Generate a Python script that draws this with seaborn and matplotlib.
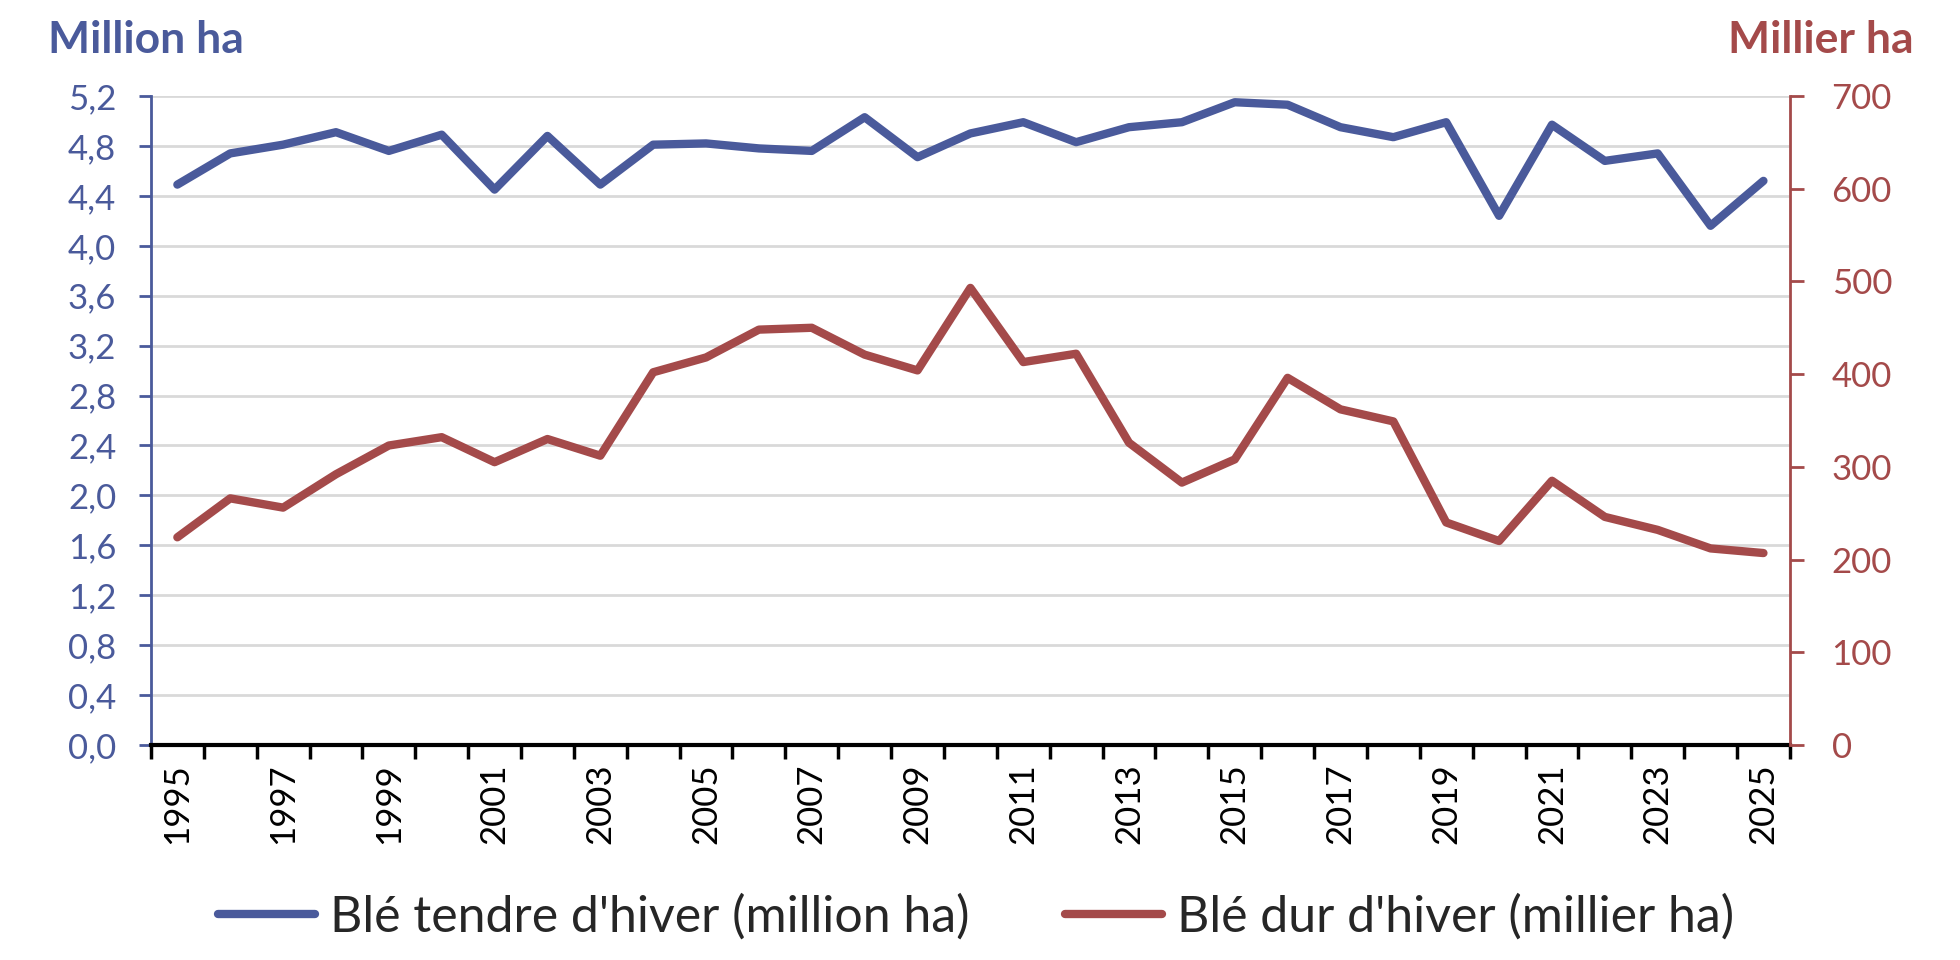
import numpy as np
import pandas as pd
import matplotlib
matplotlib.use("Agg")
import matplotlib.pyplot as plt
import seaborn as sns

# Surfaces (France), blé tendre d'hiver en million ha, blé dur d'hiver en millier ha
years = list(range(1995, 2026))
ble_tendre = [4.49, 4.74, 4.81, 4.91, 4.76, 4.89, 4.45, 4.88, 4.49, 4.81,
              4.82, 4.78, 4.76, 5.03, 4.71, 4.90, 4.99, 4.83, 4.95, 4.99,
              5.15, 5.13, 4.95, 4.87, 4.99, 4.24, 4.97, 4.68, 4.74, 4.16, 4.52]
ble_dur = [224, 266, 256, 292, 323, 332, 305, 330, 312, 402,
           418, 448, 450, 421, 404, 493, 413, 422, 326, 283,
           308, 396, 362, 349, 240, 220, 285, 246, 232, 212, 207]

left_ticks = np.arange(0, 5.21, 0.4)
right_ticks = list(range(0, 701, 100))

label_tendre = "Blé tendre d'hiver (million ha)"
label_dur = "Blé dur d'hiver (millier ha)"

blue = "#4A5A9B"
red = "#A44A4A"
grid_col = "#D9D9D9"

df = pd.DataFrame({"annee": years, "tendre": ble_tendre, "dur": ble_dur})

sns.set_theme(style="white")
plt.rcParams["font.family"] = ["Lato", "DejaVu Sans"]

fig = plt.figure(figsize=(19.6, 9.6), dpi=100)
ax = fig.add_axes([0.077, 0.224, 0.8362, 0.676])
ax2 = ax.twinx()

sns.lineplot(data=df, x="annee", y="tendre", ax=ax, color=blue, linewidth=6,
             label=label_tendre, legend=False)
sns.lineplot(data=df, x="annee", y="dur", ax=ax2, color=red, linewidth=6,
             label=label_dur, legend=False)

ax.set_xlim(1994.5, 2025.5)
ax.set_ylim(0, 5.2)
ax2.set_ylim(0, 700)

ax.set_yticks(left_ticks)
ax.set_yticklabels([f"{v:.1f}".replace(".", ",") for v in left_ticks])
ax2.set_yticks(right_ticks)
ax2.set_yticklabels([str(v) for v in right_ticks])

ax.set_xticks(years[::2])
ax.set_xticklabels([str(y) for y in years[::2]], rotation=90)
ax.set_xticks(np.arange(1994.5, 2026, 1), minor=True)

ax.grid(axis="y", color=grid_col, linewidth=2)
ax.set_axisbelow(True)
ax.set_xlabel("")
ax.set_ylabel("")
ax2.set_ylabel("")

for a in (ax, ax2):
    a.spines["top"].set_visible(False)
ax.spines["right"].set_visible(False)
ax2.spines["left"].set_visible(False)
ax2.spines["bottom"].set_visible(False)
ax.spines["left"].set_color(blue)
ax.spines["left"].set_linewidth(2)
ax2.spines["right"].set_color(red)
ax2.spines["right"].set_linewidth(2)
ax.spines["bottom"].set_color("black")
ax.spines["bottom"].set_linewidth(3)

ax.tick_params(axis="x", which="major", length=0, pad=13, labelsize=25,
               labelcolor="black")
ax.tick_params(axis="x", which="minor", length=10, width=2.5, color="black",
               direction="out", bottom=True)
ax.tick_params(axis="y", length=9, width=2, color=blue, direction="out",
               left=True, pad=16, labelsize=25, labelcolor=blue)
ax2.tick_params(axis="y", length=10, width=2, color=red, direction="out",
                right=True, pad=20, labelsize=25, labelcolor=red)

fig.text(0.0245, 0.958, "Million ha", color=blue, fontsize=32,
         fontweight="bold", ha="left", va="center")
fig.text(0.9765, 0.958, "Millier ha", color=red, fontsize=32,
         fontweight="bold", ha="right", va="center")

h1, l1 = ax.get_legend_handles_labels()
h2, l2 = ax2.get_legend_handles_labels()
fig.legend(h1 + h2, l1 + l2, loc="center", bbox_to_anchor=(0.498, 0.045),
           ncol=2, frameon=False, fontsize=36, handlelength=1.95,
           columnspacing=1.9, handletextpad=0.3)

fig.savefig("out.png", dpi=100, facecolor="white")
